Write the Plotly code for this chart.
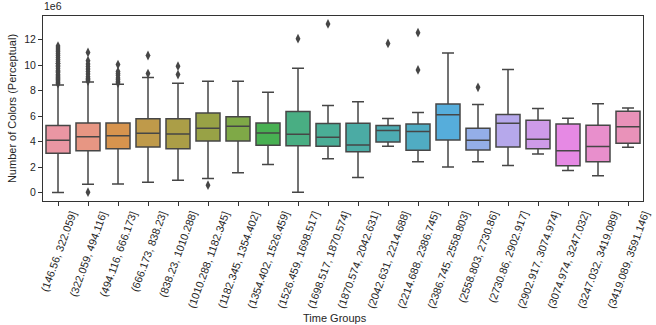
import math, colorsys
import plotly.graph_objects as go

# ---------------- data (values in units of 1e6) ----------------
groups = ["(146.56, 322.059]", "(322.059, 494.116]", "(494.116, 666.173]", "(666.173, 838.23]",
          "(838.23, 1010.288]", "(1010.288, 1182.345]", "(1182.345, 1354.402]", "(1354.402, 1526.459]",
          "(1526.459, 1698.517]", "(1698.517, 1870.574]", "(1870.574, 2042.631]", "(2042.631, 2214.688]",
          "(2214.688, 2386.745]", "(2386.745, 2558.803]", "(2558.803, 2730.86]", "(2730.86, 2902.917]",
          "(2902.917, 3074.974]", "(3074.974, 3247.032]", "(3247.032, 3419.089]", "(3419.089, 3591.146]"]
whisker_low = [0.0, 0.66, 0.68, 0.82, 0.97, 1.10, 1.55, 2.21, 0.03, 2.66,
               1.18, 3.63, 2.42, 2.00, 2.42, 2.13, 3.03, 1.74, 1.32, 3.55]
q1 = [3.08, 3.29, 3.45, 3.58, 3.45, 4.05, 4.05, 3.71, 3.68, 3.63,
      3.21, 3.97, 3.32, 4.13, 3.34, 3.58, 3.45, 2.10, 2.42, 3.87]
median = [4.10, 4.39, 4.47, 4.66, 4.60, 5.05, 5.21, 4.68, 4.58, 4.34,
          3.74, 4.87, 4.79, 6.10, 4.10, 5.45, 4.18, 3.29, 3.61, 5.16]
q3 = [5.26, 5.47, 5.47, 5.79, 5.79, 6.24, 5.95, 5.47, 6.37, 5.42,
      5.45, 5.26, 5.39, 6.95, 5.05, 6.13, 5.68, 5.39, 5.29, 6.39]
whisker_high = [8.45, 8.68, 8.50, 9.03, 8.58, 8.74, 8.74, 7.87, 9.76, 6.84,
                7.13, 5.82, 6.29, 10.95, 6.92, 9.66, 6.60, 5.84, 6.97, 6.63]
outliers = [
    [8.55, 8.65, 8.75, 8.85, 8.95, 9.05, 9.15, 9.25, 9.4, 9.5, 9.6, 9.75, 9.9, 10.0,
     10.15, 10.3, 10.45, 10.6, 10.75, 10.9, 11.05, 11.2, 11.35, 11.5],
    [0.03, 8.75, 8.85, 8.95, 9.1, 9.3, 9.5, 9.7, 9.9, 10.1, 10.35, 11.0],
    [8.6, 8.7, 8.85, 9.0, 9.2, 9.35, 9.5, 10.05],
    [9.34, 10.76],
    [9.26, 9.92],
    [0.58],
    [],
    [],
    [12.08],
    [13.24],
    [],
    [11.71],
    [9.63, 12.55],
    [],
    [8.26],
    [], [], [], [], [],
]
y_ticks = [0, 2, 4, 6, 8, 10, 12]

# ---------------- seaborn-like husl palette ----------------
_m = [[3.240969941904521, -1.537383177570093, -0.498610760293],
      [-0.96924363628087, 1.87596750150772, 0.041555057407175],
      [0.055630079696993, -0.20397695888897, 1.056971514242878]]
_refU, _refV = 0.19783000664283, 0.46831999493879
_kappa, _eps = 903.2962962, 0.0088564516

def _max_chroma(L, H):
    hrad = math.radians(H)
    sinH, cosH = math.sin(hrad), math.cos(hrad)
    sub1 = (L + 16) ** 3 / 1560896.0
    sub2 = sub1 if sub1 > 0.008856 else L / 903.3
    res = float("inf")
    for m1, m2, m3 in _m:
        top = (0.99915 * m1 + 1.05122 * m2 + 1.14460 * m3) * sub2
        rb = 0.86330 * m3 - 0.17266 * m2
        lb = 0.12949 * m3 - 0.38848 * m1
        bottom = (rb * sinH + lb * cosH) * sub2
        for t in (0.0, 1.0):
            C = L * (top - 1.05122 * t) / (bottom + 0.17266 * sinH * t)
            if 0 < C < res:
                res = C
    return res

def husl_to_rgb(H, S, L):
    C = _max_chroma(L, H) / 100.0 * S
    hr = math.radians(H)
    U, V = C * math.cos(hr), C * math.sin(hr)
    t = (L + 16) / 116.0
    Y = t ** 3 if t ** 3 > _eps else (116 * t - 16) / _kappa
    vU = U / (13 * L) + _refU
    vV = V / (13 * L) + _refV
    X = -(9 * Y * vU) / ((vU - 4) * vV - vU * vV)
    Z = (9 * Y - 15 * vV * Y - vV * X) / (3 * vV)
    out = []
    for row in _m:
        c = row[0] * X + row[1] * Y + row[2] * Z
        c = 12.92 * c if c <= 0.0031308 else 1.055 * c ** (1 / 2.4) - 0.055
        out.append(min(max(c, 0.0), 1.0))
    return out

n = len(groups)
cols = []
lights = []
for i in range(n):
    h = ((i / n) + 0.01) % 1 * 359
    r, g, b = husl_to_rgb(h, 0.9 * 99, 0.7 * 99)
    hh, ll, ss = colorsys.rgb_to_hls(r, g, b)
    r, g, b = colorsys.hls_to_rgb(hh, ll, ss * 0.75)
    lights.append(colorsys.rgb_to_hls(r, g, b)[1])
    cols.append("rgb(%d,%d,%d)" % (round(r * 255), round(g * 255), round(b * 255)))
lum = round(min(lights) * 0.6 * 255)
gray = "rgb(%d,%d,%d)" % (lum, lum, lum)

FONT = "Liberation Sans, Arial, sans-serif"
fig = go.Figure()
for i, gname in enumerate(groups):
    fig.add_trace(go.Box(
        x=[gname], q1=[q1[i]], median=[median[i]], q3=[q3[i]],
        lowerfence=[whisker_low[i]], upperfence=[whisker_high[i]],
        fillcolor=cols[i], line=dict(color=gray, width=1.5),
        width=0.8, whiskerwidth=0.5, boxpoints=False, showlegend=False,
        hoverinfo="skip"))
    if outliers[i]:
        fig.add_trace(go.Scatter(
            x=[gname] * len(outliers[i]), y=outliers[i], mode="markers",
            marker=dict(symbol="diamond-tall", size=7, color=gray),
            showlegend=False, hoverinfo="skip"))

annotations = []
for gname in groups:
    annotations.append(dict(x=gname, xref="x", y=0, yref="paper", yshift=-6,
                            text=gname, textangle=-70, showarrow=False,
                            xanchor="center", yanchor="top",
                            font=dict(family=FONT, size=10.8, color="#262626")))
annotations.append(dict(x=0.486, xref="paper", y=-0.632, yref="paper", text="Time Groups",
                        showarrow=False, xanchor="center", yanchor="middle",
                        font=dict(family=FONT, size=11, color="#262626")))
annotations.append(dict(x=-0.002, xref="paper", y=1, yref="paper", yshift=2, text="1e6",
                        showarrow=False, xanchor="left", yanchor="bottom",
                        font=dict(family=FONT, size=10.5, color="#262626")))

axis_common = dict(showline=True, mirror=True, linecolor="#333333", linewidth=1,
                   ticks="outside", ticklen=4, tickcolor="#333333", showgrid=False,
                   zeroline=False)
fig.update_layout(
    width=656, height=325, margin=dict(l=40, r=13, t=16, b=124),
    paper_bgcolor="white", plot_bgcolor="white", boxmode="overlay",
    font=dict(family=FONT, size=10.5, color="#262626"),
    xaxis=dict(type="category", categoryorder="array", categoryarray=groups,
               showticklabels=False, range=[-0.5, n - 0.5], **axis_common),
    yaxis=dict(range=[-0.66, 13.86], tickvals=y_ticks, ticktext=[str(v) for v in y_ticks],
               title=dict(text="Number of Colors (Perceptual)", standoff=5,
                          font=dict(family=FONT, size=11, color="#262626")),
               **axis_common),
    annotations=annotations,
)
fig.write_html("out.html")
